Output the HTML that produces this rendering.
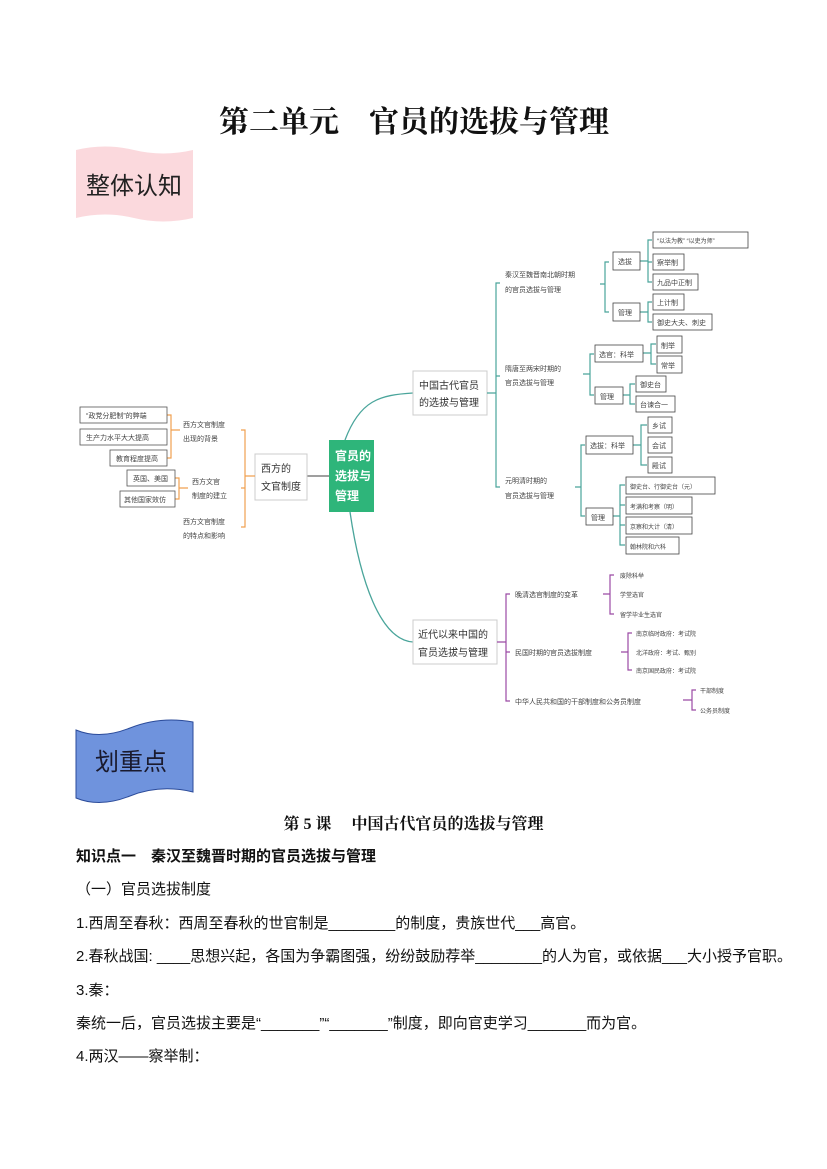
<!DOCTYPE html>
<html><head><meta charset="utf-8"><style>
html,body{margin:0;padding:0;background:#fff}
body{width:827px;height:1169px;overflow:hidden;position:relative;font-family:"Liberation Sans","Noto Sans CJK SC",sans-serif}
svg{position:absolute;left:0;top:0}
.t{position:absolute;left:76px;font-size:15px;color:#111;white-space:nowrap;font-family:"Liberation Sans","Noto Sans CJK SC",sans-serif}
</style></head><body>
<svg width="827" height="1169" viewBox="0 0 827 1169" font-family="Liberation Sans, Noto Sans CJK SC, sans-serif">
<text x="414" y="132" font-size="30" text-anchor="middle" font-weight="bold" font-family="Liberation Serif, Noto Serif CJK SC, serif" fill="#111">第二单元　官员的选拔与管理</text>
<!-- pink banner -->
<path d="M76 150 Q105 143 134 150 Q163 157 193 150 L193 218 Q163 225 134 218 Q105 211 76 218 Z" fill="#fbd9dd"/>
<text x="134" y="194" font-size="24" text-anchor="middle" fill="#222">整体认知</text>
<!-- blue banner -->
<path d="M76 730 Q100 740 130 728 Q160 716 193 722 L193 792 Q160 784 130 796 Q100 808 76 798 Z" fill="#6f93dd" stroke="#2b4b9a" stroke-width="1"/>
<text x="131" y="770" font-size="24" text-anchor="middle" fill="#1a1a2e">划重点</text>

<g font-size="7" fill="#444">
<path d="M345 440 C360 400 380 395 413 393" fill="none" stroke="#4aa59b" stroke-width="1.3"/>
<path d="M350 512 C360 580 380 640 413 642" fill="none" stroke="#4aa59b" stroke-width="1.3"/>
<line x1="307" y1="476" x2="329" y2="476" stroke="#666" stroke-width="1.3"/>
<rect x="329" y="440" width="45" height="72" fill="#2eb57a"/>
<g font-size="12" font-weight="bold" fill="#fff"><text x="335" y="460">官员的</text><text x="335" y="480">选拔与</text><text x="335" y="500">管理</text></g>
<rect x="255" y="454" width="52" height="46" fill="#fff" stroke="#ccc"/>
<g font-size="10" fill="#333"><text x="261" y="472">西方的</text><text x="261" y="490">文官制度</text></g>
<g stroke="#f0a050" fill="none" stroke-width="1.2">
<path d="M241 430 L245 430 L245 527 L241 527 M245 476 L255 476 M241 488 L245 488"/>
<path d="M167 415 L171 415 L171 458 L167 458 M171 430 L180 430"/>
<path d="M175 478 L179 478 L179 499 L175 499 M179 488 L188 488"/>
</g>
<text x="183" y="427">西方文官制度</text><text x="183" y="441">出现的背景</text>
<text x="192" y="484">西方文官</text><text x="192" y="498">制度的建立</text>
<text x="183" y="524">西方文官制度</text><text x="183" y="538">的特点和影响</text>
<g fill="#fff" stroke="#555" stroke-width="0.8">
<rect x="80" y="407" width="87" height="16"/><rect x="80" y="429" width="87" height="16"/><rect x="110" y="450" width="57" height="16"/>
<rect x="127" y="470" width="48" height="16"/><rect x="120" y="491" width="55" height="16"/>
</g>
<text x="86" y="418">“政党分肥制”的弊端</text><text x="86" y="440">生产力水平大大提高</text><text x="116" y="461">教育程度提高</text>
<text x="133" y="481">英国、美国</text><text x="124" y="502">其他国家效仿</text>

<rect x="413" y="371" width="74" height="44" fill="#fff" stroke="#ccc"/>
<g font-size="10" fill="#333"><text x="419" y="389">中国古代官员</text><text x="419" y="406">的选拔与管理</text></g>
<g stroke="#4aa59b" fill="none" stroke-width="1.2">
<path d="M500 283 L496 283 L496 487 L500 487 M487 393 L496 393 M496 376 L500 376"/>
<path d="M600 284 L605 284 M609 262 L605 262 L605 312 L609 312"/>
<path d="M640 261 L648 261 M652 240 L648 240 L648 282 L652 282 M648 262 L652 262"/>
<path d="M640 312 L648 312 M652 302 L648 302 L648 322 L652 322"/>
<path d="M583 374 L590 374 M594 354 L590 354 L590 395 L594 395"/>
<path d="M643 353 L651 353 M656 344 L651 344 L651 364 L656 364"/>
<path d="M623 395 L630 395 M635 384 L630 384 L630 404 L635 404"/>
<path d="M575 487 L581 487 M585 445 L581 445 L581 516 L585 516"/>
<path d="M633 445 L641 445 M647 425 L641 425 L641 465 L647 465"/>
<path d="M613 516 L620 516 M625 485 L620 485 L620 545 L625 545 M620 505 L625 505 M620 525 L625 525"/>
</g>
<text x="505" y="277">秦汉至魏晋南北朝时期</text><text x="505" y="292">的官员选拔与管理</text>
<text x="505" y="371">隋唐至两宋时期的</text><text x="505" y="385">官员选拔与管理</text>
<text x="505" y="483">元明清时期的</text><text x="505" y="498">官员选拔与管理</text>
<g fill="#fff" stroke="#444" stroke-width="0.8">
<rect x="613" y="252" width="27" height="18"/><rect x="613" y="303" width="27" height="18"/>
<rect x="653" y="232" width="95" height="16"/><rect x="653" y="254" width="31" height="16"/><rect x="653" y="274" width="45" height="16"/><rect x="653" y="294" width="31" height="16"/><rect x="653" y="314" width="59" height="16"/>
<rect x="595" y="345" width="48" height="17"/><rect x="595" y="387" width="28" height="17"/>
<rect x="657" y="336" width="25" height="17"/><rect x="657" y="356" width="25" height="17"/><rect x="636" y="376" width="30" height="16"/><rect x="636" y="396" width="39" height="16"/>
<rect x="586" y="436" width="47" height="18"/><rect x="586" y="508" width="27" height="17"/>
<rect x="648" y="417" width="24" height="16"/><rect x="648" y="437" width="24" height="16"/><rect x="648" y="457" width="24" height="16"/>
<rect x="626" y="477" width="89" height="17"/><rect x="626" y="497" width="66" height="17"/><rect x="626" y="517" width="66" height="17"/><rect x="626" y="537" width="53" height="17"/>
</g>
<text x="618" y="264">选拔</text><text x="618" y="315">管理</text>
<text x="657" y="243" font-size="6">“以法为教” “以吏为师”</text><text x="657" y="265">察举制</text><text x="657" y="285">九品中正制</text><text x="657" y="305">上计制</text><text x="657" y="325">御史大夫、刺史</text>
<text x="599" y="357">选官：科举</text><text x="600" y="399">管理</text>
<text x="661" y="348">制举</text><text x="661" y="368">常举</text><text x="640" y="387">御史台</text><text x="640" y="407">台谏合一</text>
<text x="590" y="448">选拔：科举</text><text x="591" y="520">管理</text>
<text x="652" y="428">乡试</text><text x="652" y="448">会试</text><text x="652" y="468">殿试</text>
<text x="630" y="489" font-size="6">御史台、行御史台（元）</text><text x="630" y="509" font-size="6">考满和考察（明）</text><text x="630" y="529" font-size="6">京察和大计（清）</text><text x="630" y="549" font-size="6">翰林院和六科</text>

<rect x="413" y="620" width="84" height="44" fill="#fff" stroke="#ccc"/>
<g font-size="10" fill="#333"><text x="418" y="638">近代以来中国的</text><text x="418" y="656">官员选拔与管理</text></g>
<g stroke="#9b4aa5" fill="none" stroke-width="1.2">
<path d="M510 594 L506 594 L506 701 L510 701 M497 642 L506 642 M506 652 L510 652"/>
<path d="M603 594 L610 594 M614 575 L610 575 L610 614 L614 614"/>
<path d="M621 652 L628 652 M632 633 L628 633 L628 670 L632 670"/>
<path d="M683 700 L692 700 M696 690 L692 690 L692 710 L696 710"/>
</g>
<text x="515" y="597">晚清选官制度的变革</text><text x="515" y="655">民国时期的官员选拔制度</text><text x="515" y="704">中华人民共和国的干部制度和公务员制度</text>
<g font-size="6"><text x="620" y="578">废除科举</text><text x="620" y="597">学堂选官</text><text x="620" y="617">留学毕业生选官</text>
<text x="636" y="636">南京临时政府：考试院</text><text x="636" y="655">北洋政府：考试、甄别</text><text x="636" y="673">南京国民政府：考试院</text>
<text x="700" y="693">干部制度</text><text x="700" y="713">公务员制度</text></g>
</g>
</svg>
<div class="t" style="left:0;width:827px;text-align:center;top:811px;font-weight:bold;font-size:16px;font-family:'Liberation Serif','Noto Serif CJK SC',serif">第 5 课　 中国古代官员的选拔与管理</div>
<div class="t" style="top:845px;font-weight:bold">知识点一　秦汉至魏晋时期的官员选拔与管理</div>
<div class="t" style="top:878px">（一）官员选拔制度</div>
<div class="t" style="top:912px">1.西周至春秋：西周至春秋的世官制是________的制度，贵族世代___高官。</div>
<div class="t" style="top:945px">2.春秋战国: ____思想兴起，各国为争霸图强，纷纷鼓励荐举________的人为官，或依据___大小授予官职。</div>
<div class="t" style="top:979px">3.秦：</div>
<div class="t" style="top:1012px">秦统一后，官员选拔主要是“_______”“_______”制度，即向官吏学习_______而为官。</div>
<div class="t" style="top:1045px">4.两汉——察举制：</div>
</body></html>
